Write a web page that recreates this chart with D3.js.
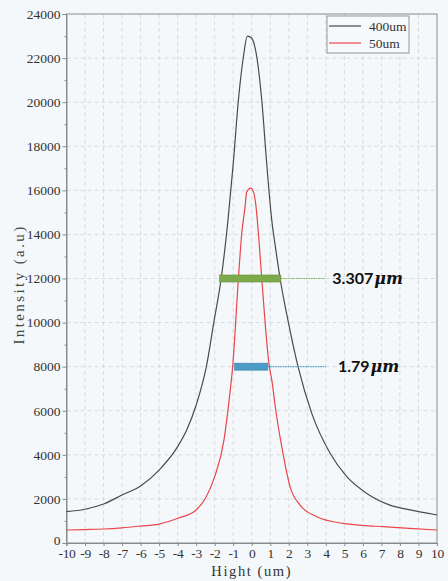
<!DOCTYPE html>
<html>
<head>
<meta charset="utf-8">
<script src="https://cdn.jsdelivr.net/npm/d3@7/dist/d3.min.js"></script>
<style>
  html, body { margin: 0; padding: 0; background: #f5f8fb; }
  svg { display: block; }
  .serif { font-family: "Liberation Serif", "Times New Roman", serif; }
</style>
</head>
<body>
<svg id="chart" width="448" height="581"></svg>
<script>
// Intensity profiles across height for two slit widths
const seriesNames = ["400um", "50um"];
const seriesColors = ["#4a4a4a", "#e8464a"];

const x400 = [-10, -9, -8, -7, -6, -5, -4, -3.5, -3, -2.45, -2.05, -1.65, -1.3, -1.0, -0.72, -0.45, -0.24, 0, 0.27, 0.54, 0.8, 1.08, 1.3, 1.53, 1.98, 2.5, 3.24, 4.23, 5.13, 6.21, 7.46, 8.54, 10];
const y400 = [1420, 1530, 1770, 2180, 2590, 3310, 4370, 5150, 6260, 8000, 10000, 12000, 14500, 17200, 20100, 22060, 23000, 22900, 22060, 20100, 17300, 14650, 13300, 12000, 10000, 8000, 5880, 4070, 3010, 2250, 1720, 1500, 1270];

const x50 = [-10, -9, -8, -7, -6, -5, -4, -3, -2.5, -2, -1.5, -1.2, -1.03, -0.72, -0.54, -0.36, -0.27, -0.05, 0.09, 0.23, 0.36, 0.54, 0.95, 1.08, 1.3, 1.62, 2.07, 2.61, 3.51, 4.94, 6, 7.1, 8.5, 10];
const y50 = [590, 610, 635, 690, 770, 860, 1120, 1500, 2030, 3010, 4670, 6640, 8000, 12000, 14050, 15260, 15940, 16100, 15940, 15260, 14050, 12000, 8000, 7400, 6000, 4370, 2550, 1720, 1190, 890, 800, 740, 660, 590];

// Full-width markers: width (um), intensity level, centre position
const fwhmWidths = [3.307, 1.79];
const fwhmLabels = ["3.307", "1.79"];
const fwhmLevels = [12000, 8000];
const fwhmCenters = [-0.08, -0.03];
const fwhmColors = ["#7dab4c", "#4a9dc6"];

const xTicks = d3.range(-10, 11, 1);
const yTicks = d3.range(0, 24001, 2000);
const yMinorTicks = d3.range(1000, 24000, 2000);

const svg = d3.select("#chart");
const W = 448, H = 581;
const m = { left: 66.5, right: 11, top: 14, bottom: 38 };

svg.append("rect").attr("width", W).attr("height", H).attr("fill", "#f5f8fb");

const x = d3.scaleLinear().domain([-10, 10]).range([m.left, W - m.right]);
const y = d3.scaleLinear().domain([0, 24000]).range([H - m.bottom, m.top]);

// grid
const grid = svg.append("g").attr("stroke", "#cfd3d8").attr("stroke-width", 0.8).attr("stroke-dasharray", "4,3");
grid.selectAll(".gx").data(xTicks.slice(1, -1)).join("line")
  .attr("x1", d => x(d)).attr("x2", d => x(d)).attr("y1", y(0)).attr("y2", y(24000));
grid.selectAll(".gy").data(yTicks.slice(1, -1)).join("line")
  .attr("x1", x(-10)).attr("x2", x(10)).attr("y1", d => y(d)).attr("y2", d => y(d));

// frame
svg.append("rect")
  .attr("x", x(-10)).attr("y", y(24000))
  .attr("width", x(10) - x(-10)).attr("height", y(0) - y(24000))
  .attr("fill", "none").attr("stroke", "#8a8a8a").attr("stroke-width", 1);

// axes
const yAxis = svg.append("g").attr("transform", `translate(${x(-10)},0)`)
  .call(d3.axisLeft(y).tickValues(yTicks).tickSize(4).tickPadding(2).tickFormat(d => String(d)));
svg.append("g").attr("transform", `translate(${x(-10)},0)`)
  .call(d3.axisLeft(y).tickValues(yMinorTicks).tickSize(2).tickFormat(""))
  .call(g => g.select(".domain").remove());
const xAxis = svg.append("g").attr("transform", `translate(0,${y(0)})`)
  .call(d3.axisBottom(x).tickValues(xTicks).tickSize(3).tickPadding(2.5).tickFormat(d => String(d)));

[yAxis, xAxis].forEach(g => {
  g.attr("font-family", null);
  g.selectAll(".domain").attr("stroke", "#8a8a8a");
  g.selectAll("text").attr("class", "serif").attr("font-size", 13.5).attr("fill", "#333");
});
xAxis.selectAll("text").attr("letter-spacing", -0.3);
// lift the zero label slightly above the corner
yAxis.selectAll(".tick").filter(d => d === 0).select("text").attr("dy", "0.1em");
svg.selectAll(".tick line").attr("stroke", "#8a8a8a");

// axis titles
svg.append("text")
  .attr("class", "serif")
  .attr("transform", `translate(24,${(y(0) + y(24000)) / 2 + 6}) rotate(-90)`)
  .attr("text-anchor", "middle")
  .attr("font-size", 15).attr("letter-spacing", 2.4)
  .attr("fill", "#444").text("Intensity (a.u)");
svg.append("text")
  .attr("class", "serif")
  .attr("x", (x(-10) + x(10)) / 2).attr("y", 576)
  .attr("text-anchor", "middle")
  .attr("font-size", 14.5).attr("letter-spacing", 1.6)
  .attr("fill", "#333").text("Hight (um)");

// curves
const line = d3.line().x(d => x(d[0])).y(d => y(d[1])).curve(d3.curveMonotoneX);
const series = [d3.zip(x400, y400), d3.zip(x50, y50)];
svg.append("g").selectAll("path").data(series).join("path")
  .attr("d", line)
  .attr("fill", "none")
  .attr("stroke", (d, i) => seriesColors[i])
  .attr("stroke-width", 1.2);

// FWHM markers with leader lines and labels
const leaderEnd = 4.0;
const labelX = [4.35, 4.65];
fwhmWidths.forEach((w, i) => {
  const x0 = fwhmCenters[i] - w / 2, x1 = fwhmCenters[i] + w / 2;
  svg.append("line")
    .attr("x1", x(x1)).attr("x2", x(leaderEnd))
    .attr("y1", y(fwhmLevels[i])).attr("y2", y(fwhmLevels[i]))
    .attr("stroke", fwhmColors[i]).attr("stroke-width", 1.2)
    .attr("stroke-dasharray", "1.5,1");
  svg.append("rect")
    .attr("x", x(x0)).attr("y", y(fwhmLevels[i]) - 3.5)
    .attr("width", x(x1) - x(x0)).attr("height", 7)
    .attr("fill", fwhmColors[i])
    .attr("stroke", d3.color(fwhmColors[i]).darker(0.6)).attr("stroke-width", 0.6);
  const t = svg.append("text")
    .attr("x", x(labelX[i])).attr("y", y(fwhmLevels[i]) + 5.5)
    .attr("fill", "#111").attr("font-size", 16);
  t.append("tspan").style("font-family", "Lato, 'Open Sans', sans-serif").attr("font-weight", 700)
    .text(fwhmLabels[i]);
  t.append("tspan").style("font-family", "'DejaVu Serif', serif").attr("font-style", "italic")
    .attr("font-weight", 700).attr("dx", 1).text("μm");
});

// legend
const lg = svg.append("g").attr("transform", "translate(327,16)");
lg.append("rect").attr("width", 82).attr("height", 37)
  .attr("fill", "#f7fafc").attr("stroke", "#8a8a8a").attr("stroke-width", 0.9);
seriesNames.forEach((name, i) => {
  const yy = 10 + i * 17;
  lg.append("line").attr("x1", 2).attr("x2", 34).attr("y1", yy).attr("y2", yy)
    .attr("stroke", seriesColors[i]).attr("stroke-width", 1.2);
  lg.append("text").attr("class", "serif").attr("x", 42).attr("y", yy + 4.5)
    .attr("font-size", 13.5).attr("fill", "#333").text(name);
});
</script>
</body>
</html>
